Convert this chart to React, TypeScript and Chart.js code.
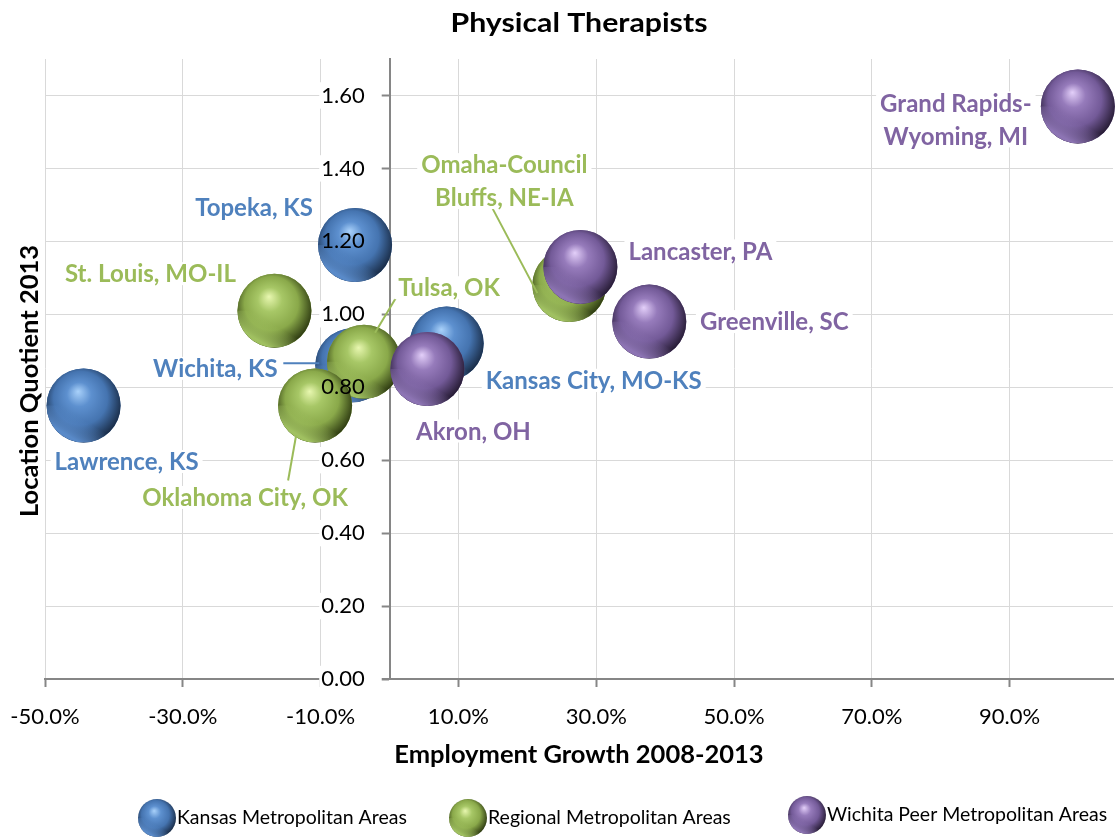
import React, { useEffect, useRef } from "react";
import { Chart, registerables } from "chart.js";

Chart.register(...registerables);

// ---------------- DATA ----------------
const chartTitle = "Physical Therapists";
const xAxisTitle = "Employment Growth 2008-2013";
const yAxisTitle = "Location Quotient 2013";
const seriesNames = [
  "Kansas Metropolitan Areas",
  "Regional Metropolitan Areas",
  "Wichita Peer Metropolitan Areas",
];

const kansasNames = ["Lawrence, KS", "Topeka, KS", "Wichita, KS", "Kansas City, MO-KS"];
const kansasGrowth = [-44.4, -5.0, -5.4, 8.3];
const kansasLQ = [0.75, 1.19, 0.86, 0.92];

const regionalNames = ["St. Louis, MO-IL", "Tulsa, OK", "Oklahoma City, OK", "Omaha-Council\nBluffs, NE-IA"];
const regionalGrowth = [-16.7, -3.7, -10.8, 26.1];
const regionalLQ = [1.01, 0.87, 0.75, 1.08];

const peerNames = ["Grand Rapids-\nWyoming, MI", "Lancaster, PA", "Greenville, SC", "Akron, OH"];
const peerGrowth = [99.9, 27.7, 37.7, 5.5];
const peerLQ = [1.57, 1.13, 0.98, 0.85];

const xTickValues = [-50, -30, -10, 10, 30, 50, 70, 90];
const yTickValues = [0, 0.2, 0.4, 0.6, 0.8, 1.0, 1.2, 1.4, 1.6];

// ---------------- LAYOUT / STYLE ----------------
const W = 1117;
const H = 837;
const FONT = "Lato, 'Open Sans', sans-serif";
const BUBBLE_R = 37;
const Y_LABEL_AT = -3.6; // x value where y tick labels end (leaves room for tick marks)

type Pal = { hi: string; mid: string; base: string; dark: string; rim: string; text: string };
const palettes: Pal[] = [
  { hi: "#a9d1fa", mid: "#5d90cf", base: "#4574b0", dark: "#1a2d48", rim: "92,142,206", text: "#4f81bd" },
  { hi: "#e8f7b0", mid: "#a7c766", base: "#8aa94a", dark: "#2f3c12", rim: "165,198,100", text: "#9bbb59" },
  { hi: "#e3cff9", mid: "#967bbb", base: "#735a98", dark: "#271c35", rim: "145,120,185", text: "#8064a2" },
];

// label offsets (px) from bubble centre to label centre
const labelOffsets: number[][][] = [
  [[43, 56], [-101, -38], [-137, 3], [147, 37]],
  [[-124, -37], [85, -74], [-70, 92], [-65, -104]],
  [[-122, 13], [120, -16], [125, 0], [46, 62]],
];
// leader lines: [from offset relative to bubble, to offset relative to label centre]
const leaders: (number[][] | null)[][] = [
  [null, null, [[-33, -2], [68, -5]], null],
  [null, [[11, -29], [-50, 5]], [[-19, 30], [43, -17]], [[-32, 8], [-12, 27]]],
  [null, null, null, null],
];
const legendPos = [
  [157, 818],
  [468, 818],
  [807, 815],
];

const allNames = [kansasNames, regionalNames, peerNames];

function drawSphere(c: CanvasRenderingContext2D, x: number, y: number, r: number, p: Pal) {
  c.save();
  c.beginPath();
  c.arc(x, y, r, 0, Math.PI * 2);
  c.closePath();
  const g = c.createRadialGradient(x - r * 0.15, y - r * 0.38, 0, x - r * 0.05, y - r * 0.1, r * 1.1);
  g.addColorStop(0, p.hi);
  g.addColorStop(0.3, p.mid);
  g.addColorStop(0.66, p.base);
  g.addColorStop(1, p.dark);
  c.fillStyle = g;
  c.fill();
  c.clip();
  const lg = c.createLinearGradient(x + r * 0.2, y + r * 0.5, x - r * 0.1, y + r);
  lg.addColorStop(0, `rgba(${p.rim},0)`);
  lg.addColorStop(1, `rgba(${p.rim},0.95)`);
  c.fillStyle = lg;
  c.fillRect(x - r, y, 2 * r, r);
  c.restore();
}

const spherePlugin = {
  id: "spheres",
  afterDatasetDraw(chart: any, args: any) {
    const c = chart.ctx as CanvasRenderingContext2D;
    const p = palettes[args.index];
    args.meta.data.forEach((el: any) => {
      drawSphere(c, el.x, el.y, el.options.radius, p);
    });
  },
};

const labelPlugin = {
  id: "pointLabels",
  afterDatasetsDraw(chart: any) {
    const c = chart.ctx as CanvasRenderingContext2D;
    c.save();
    c.font = `bold 24px ${FONT}`;
    c.textAlign = "center";
    c.textBaseline = "middle";
    const lh = 33;
    chart.data.datasets.forEach((ds: any, di: number) => {
      const meta = chart.getDatasetMeta(di);
      const p = palettes[di];
      meta.data.forEach((el: any, i: number) => {
        const off = labelOffsets[di][i];
        const lx = el.x + off[0];
        const ly = el.y + off[1];
        const lines = String(allNames[di][i]).split("\n");
        const tw = Math.max(...lines.map((l) => c.measureText(l).width));
        const th = lines.length * lh;
        const ld = leaders[di][i];
        if (ld) {
          c.strokeStyle = p.text;
          c.lineWidth = 2;
          c.beginPath();
          c.moveTo(el.x + ld[0][0], el.y + ld[0][1]);
          c.lineTo(lx + ld[1][0], ly + ld[1][1]);
          c.stroke();
        }
        c.fillStyle = "#ffffff";
        c.fillRect(lx - tw / 2 - 4, ly - th / 2 + 5, tw + 8, th - 10);
        c.fillStyle = p.text;
        lines.forEach((l, k) => {
          c.fillText(l, lx, ly - th / 2 + lh / 2 + k * lh + 1);
        });
      });
    });
    c.restore();
  },
};

const extrasPlugin = {
  id: "extras",
  afterDraw(chart: any) {
    const c = chart.ctx as CanvasRenderingContext2D;
    const area = chart.chartArea;
    // chart title
    c.save();
    c.translate((area.left + area.right) / 2, 23);
    c.scale(1.12, 1);
    c.font = `bold 27px ${FONT}`;
    c.fillStyle = "#000";
    c.textAlign = "center";
    c.textBaseline = "middle";
    c.fillText(chartTitle, 0, 0);
    c.restore();
    // y axis title
    c.save();
    c.translate(30, 381);
    c.rotate(-Math.PI / 2);
    c.font = `bold 25.5px ${FONT}`;
    c.fillStyle = "#000";
    c.textAlign = "center";
    c.textBaseline = "middle";
    c.fillText(yAxisTitle, 0, 0);
    c.restore();
    // legend
    c.save();
    c.font = `19.5px ${FONT}`;
    c.textAlign = "left";
    c.textBaseline = "middle";
    seriesNames.forEach((n, i) => {
      const [x, y] = legendPos[i];
      drawSphere(c, x, y, 19, palettes[i]);
      c.fillStyle = "#000";
      c.fillText(n, x + 20, y);
    });
    c.restore();
  },
};

function mkPoints(xs: number[], ys: number[]) {
  return xs.map((x, i) => ({ x, y: ys[i], r: BUBBLE_R }));
}

export default function App() {
  const ref = useRef<HTMLCanvasElement | null>(null);
  useEffect(() => {
    if (!ref.current) return;
    const tickFont = { family: FONT, size: 22 };
    const yTicksBuilder = (s: any) => {
      s.ticks = yTickValues.map((v) => ({ value: v }));
    };
    const zeroFit = (s: any) => {
      s.width = 0;
      s.paddingTop = 0;
      s.paddingBottom = 0;
      s.paddingLeft = 0;
      s.paddingRight = 0;
    };
    const yFmt = (v: any) => Number(v).toFixed(2);
    const chart = new Chart(ref.current, {
      type: "bubble",
      data: {
        datasets: [
          {
            label: seriesNames[0],
            data: mkPoints(kansasGrowth, kansasLQ),
            backgroundColor: palettes[0].base,
            borderWidth: 0,
            order: 3,
            clip: false,
            xAxisID: "x",
            yAxisID: "y",
          },
          {
            label: seriesNames[1],
            data: mkPoints(regionalGrowth, regionalLQ),
            backgroundColor: palettes[1].base,
            borderWidth: 0,
            order: 2,
            clip: false,
            xAxisID: "x",
            yAxisID: "y",
          },
          {
            label: seriesNames[2],
            data: mkPoints(peerGrowth, peerLQ),
            backgroundColor: palettes[2].base,
            borderWidth: 0,
            order: 1,
            clip: false,
            xAxisID: "x",
            yAxisID: "y",
          },
        ],
      },
      options: {
        responsive: false,
        animation: false,
        events: [],
        layout: { autoPadding: false, padding: { left: 45, right: 4, top: 59, bottom: 63 } },
        plugins: {
          legend: { display: false },
          tooltip: { enabled: false },
          title: { display: false },
        },
        scales: {
          x: {
            type: "linear",
            position: "bottom",
            min: -50,
            max: 105,
            afterBuildTicks: (s: any) => {
              s.ticks = xTickValues.map((v) => ({ value: v }));
            },
            afterFit: (s: any) => {
              s.height = 95;
              s.paddingLeft = 0;
              s.paddingRight = 0;
            },
            grid: { color: "#d9d9d9", lineWidth: 1, tickLength: 8, tickColor: "#868686", tickWidth: 2 },
            border: { color: "#868686", width: 2 },
            ticks: {
              color: "#000",
              font: tickFont,
              padding: 17,
              autoSkip: false,
              maxRotation: 0,
              callback: (v: any) => Number(v).toFixed(1) + "%",
            },
            title: {
              display: true,
              text: xAxisTitle,
              color: "#000",
              font: { family: FONT, size: 25.5, weight: "bold" },
              padding: { top: 4, bottom: 4 },
            },
          },
          y: {
            type: "linear",
            position: { x: 0 },
            min: 0,
            max: 1.7,
            afterBuildTicks: yTicksBuilder,
            afterFit: zeroFit,
            grid: { color: "#d9d9d9", lineWidth: 1, tickLength: 8, tickColor: "#868686", tickWidth: 2 },
            border: { color: "#868686", width: 2 },
            ticks: { display: false, font: tickFont, callback: yFmt },
          },
          yBack: {
            type: "linear",
            axis: "y",
            position: { x: Y_LABEL_AT },
            min: 0,
            max: 1.7,
            afterBuildTicks: yTicksBuilder,
            afterFit: zeroFit,
            grid: { display: false },
            border: { display: false },
            ticks: {
              color: "rgba(0,0,0,0)",
              font: tickFont,
              padding: 0,
              showLabelBackdrop: true,
              backdropColor: "#ffffff",
              backdropPadding: { top: 0, bottom: 0, left: 2, right: 17 },
              callback: yFmt,
            },
          },
          yText: {
            type: "linear",
            axis: "y",
            position: { x: Y_LABEL_AT },
            min: 0,
            max: 1.7,
            afterBuildTicks: yTicksBuilder,
            afterFit: zeroFit,
            grid: { display: false },
            border: { display: false },
            ticks: {
              z: 1,
              color: "#000",
              font: tickFont,
              padding: 0,
              callback: yFmt,
            },
          },
        } as any,
      },
      plugins: [spherePlugin, labelPlugin, extrasPlugin],
    } as any);
    return () => chart.destroy();
  }, []);
  return (
    <div style={{ position: "fixed", left: 0, top: 0, width: W, height: H, background: "#fff" }}>
      <canvas ref={ref} width={W} height={H} style={{ width: W, height: H, display: "block" }} />
    </div>
  );
}
